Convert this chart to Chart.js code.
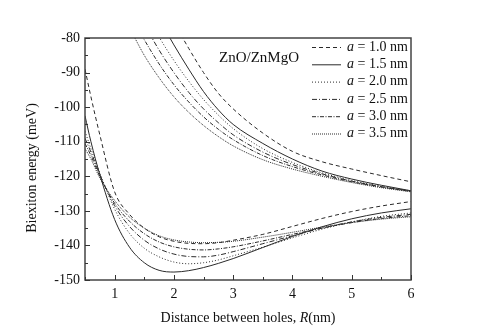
<!DOCTYPE html>
<html>
<head>
<meta charset="utf-8">
<script src="https://cdn.jsdelivr.net/npm/chart.js@4/dist/chart.umd.min.js"></script>
<style>
    html, body { margin: 0; padding: 0; background: #fff; }
    #wrap { width: 477px; height: 336px; }
</style>
</head>
<body>
<div id="wrap"><canvas id="biexcitonChart" width="477" height="336"></canvas></div>
<script>
const lowerR = [0.5, 0.6, 0.75, 1.0, 1.25, 1.5, 1.75, 2.0, 2.25, 2.5, 2.75, 3.0, 3.5, 4.0, 4.5, 5.0, 5.5, 6.0];
const upperR = [1.25, 1.5, 1.75, 2.0, 2.25, 2.5, 2.75, 3.0, 3.5, 4.0, 4.5, 5.0, 5.5, 6.0];

// lower (bonding) branch, meV
const lower10 = [-89, -97, -108, -124.5, -131, -135, -137.5, -138.8, -139.4, -139.5, -139.2, -138.5, -136.8, -134.5, -132.2, -130.2, -128.6, -127.3];
const lower15 = [-102.5, -110, -119.5, -132.5, -140.5, -145, -147.2, -147.7, -147.3, -146.4, -145.2, -143.8, -140.6, -137.4, -134.6, -132.3, -130.6, -129.4];
const lower20 = [-107, -112, -119, -129.5, -136.5, -140.8, -143.3, -144.8, -145.3, -145, -144.2, -143, -140.5, -137.8, -135.3, -133.2, -131.6, -130.6];
const lower25 = [-109, -113, -119.5, -128.5, -134.5, -138.5, -141, -142.5, -143.2, -143.3, -142.8, -141.8, -139.5, -137.2, -135, -133.2, -131.9, -131];
const lower30 = [-110.5, -114, -120, -127.8, -133, -136.6, -139, -140.4, -141.1, -141.3, -141, -140.4, -138.7, -136.8, -135, -133.4, -132.2, -131.4];
const lower35 = [-112, -115, -120.5, -127, -131.8, -135, -137.2, -138.4, -139, -139.2, -139.1, -138.8, -137.6, -136.2, -134.7, -133.4, -132.4, -131.7];

// upper (antibonding) branch, meV
const upper10 = [null, null, null, -75.5, -83, -90, -96, -100.5, -107.5, -112.8, -115.8, -117.9, -119.8, -121.6];
const upper15 = [null, null, -74.5, -82, -89, -95.5, -100.8, -105, -110.5, -115, -118.5, -120.8, -122.6, -124.2];
const upper20 = [null, -72, -79.7, -86.5, -92.5, -97.8, -102.3, -106.2, -112, -116, -119, -121.2, -122.9, -124.2];
const upper25 = [null, -76, -83.5, -90, -95.7, -100.5, -104.5, -108, -113, -116.6, -119.3, -121.4, -123, -124.3];
const upper30 = [-73, -80.5, -87.5, -93.5, -98.5, -102.8, -106.4, -109.4, -114, -117.2, -119.6, -121.6, -123.1, -124.4];
const upper35 = [-77, -85, -91.5, -97, -101.5, -105.3, -108.5, -111.2, -115.2, -117.9, -120, -121.8, -123.3, -124.5];

const legendLabels = ["1.0", "1.5", "2.0", "2.5", "3.0", "3.5"];
const dashes = [[4, 3], [], [1, 2], [5, 2, 1, 2], [4, 1.5, 1, 1.5], [1, 1]];
const lowerSets = [lower10, lower15, lower20, lower25, lower30, lower35];
const upperSets = [upper10, upper15, upper20, upper25, upper30, upper35];

const SERIF = "'Liberation Serif', 'DejaVu Serif', serif";
const INK = "#2a2a2a";

function toPoints(xs, ys) {
    return xs.map((x, i) => ({ x: x, y: ys[i] }));
}

const datasets = [];
legendLabels.forEach((lab, i) => {
    [toPoints(lowerR, lowerSets[i]), toPoints(upperR, upperSets[i])].forEach(pts => {
        datasets.push({
            label: "a = " + lab + " nm",
            data: pts,
            borderColor: INK,
            borderWidth: 1,
            borderDash: dashes[i],
            pointRadius: 0,
            fill: false,
            cubicInterpolationMode: 'monotone',
            spanGaps: false
        });
    });
});

// frame, inward ticks, legend and titles
const decorations = {
    id: 'decorations',
    afterDraw(chart) {
        const ctx = chart.ctx;
        const area = chart.chartArea;
        const xs = chart.scales.x;
        const ys = chart.scales.y;
        ctx.save();
        ctx.strokeStyle = "#444";
        ctx.lineWidth = 1.5;
        ctx.setLineDash([]);
        ctx.strokeRect(area.left, area.top, area.right - area.left, area.bottom - area.top);

        ctx.lineWidth = 1;
        ctx.strokeStyle = "#333";
        xs.ticks.forEach(t => {
            const px = Math.round(xs.getPixelForValue(t.value)) + 0.5;
            const len = Number.isInteger(t.value) ? 5 : 3;
            ctx.beginPath();
            ctx.moveTo(px, area.bottom);
            ctx.lineTo(px, area.bottom - len);
            ctx.stroke();
        });
        ys.ticks.forEach(t => {
            const py = Math.round(ys.getPixelForValue(t.value)) + 0.5;
            const len = t.value % 10 === 0 ? 5 : 3;
            ctx.beginPath();
            ctx.moveTo(area.left, py);
            ctx.lineTo(area.left + len, py);
            ctx.stroke();
        });

        // legend
        ctx.fillStyle = "#111";
        ctx.textBaseline = "middle";
        ctx.font = "15px " + SERIF;
        ctx.fillText("ZnO/ZnMgO", 219, 58);
        legendLabels.forEach((lab, i) => {
            const y = 47 + i * 17.3;
            ctx.strokeStyle = INK;
            ctx.lineWidth = 1;
            ctx.setLineDash(dashes[i]);
            ctx.beginPath();
            ctx.moveTo(312, y + 0.5);
            ctx.lineTo(341, y + 0.5);
            ctx.stroke();
            ctx.setLineDash([]);
            ctx.font = "italic 14px " + SERIF;
            ctx.fillText("a", 347, y);
            const w = ctx.measureText("a").width;
            ctx.font = "14px " + SERIF;
            ctx.fillText(" = " + lab + " nm", 347 + w, y);
        });

        // x title with italic R
        const part1 = "Distance between holes, ";
        ctx.font = "14px " + SERIF;
        const w1 = ctx.measureText(part1).width;
        const w3 = ctx.measureText("(nm)").width;
        ctx.font = "italic 14px " + SERIF;
        const w2 = ctx.measureText("R").width;
        let x0 = (area.left + area.right) / 2 - (w1 + w2 + w3) / 2;
        ctx.font = "14px " + SERIF;
        ctx.fillText(part1, x0, 318);
        ctx.font = "italic 14px " + SERIF;
        ctx.fillText("R", x0 + w1, 318);
        ctx.font = "14px " + SERIF;
        ctx.fillText("(nm)", x0 + w1 + w2, 318);

        // y title
        ctx.translate(32, 168);
        ctx.rotate(-Math.PI / 2);
        ctx.textAlign = "center";
        ctx.fillText("Biexiton energy (meV)", 0, 0);
        ctx.restore();
    }
};

new Chart(document.getElementById('biexcitonChart'), {
    type: 'line',
    data: { datasets: datasets },
    options: {
        responsive: false,
        animation: false,
        events: [],
        layout: { padding: { left: 0, right: 66, top: 38, bottom: 0 } },
        plugins: {
            legend: { display: false },
            tooltip: { enabled: false }
        },
        scales: {
            x: {
                type: 'linear',
                min: 0.5,
                max: 6,
                afterFit: s => { s.height = 56; },
                grid: { display: false, drawTicks: false },
                border: { display: false },
                ticks: {
                    stepSize: 0.5,
                    autoSkip: false,
                    maxRotation: 0,
                    padding: 6,
                    color: "#111",
                    font: { family: SERIF, size: 14 },
                    callback: v => Number.isInteger(v) ? String(v) : ''
                }
            },
            y: {
                type: 'linear',
                min: -150,
                max: -80,
                afterFit: s => { s.width = 85; },
                grid: { display: false, drawTicks: false },
                border: { display: false },
                ticks: {
                    stepSize: 5,
                    autoSkip: false,
                    padding: 5,
                    color: "#111",
                    font: { family: SERIF, size: 14 },
                    callback: v => v % 10 === 0 ? String(v) : ''
                }
            }
        }
    },
    plugins: [decorations]
});
</script>
</body>
</html>
